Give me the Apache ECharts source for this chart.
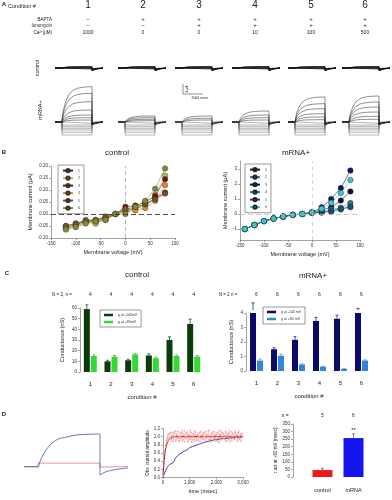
<!DOCTYPE html>
<html><head><meta charset="utf-8">
<script src="https://cdn.jsdelivr.net/npm/echarts@6/dist/echarts.min.js"></script>
<style>html,body{margin:0;padding:0;background:#fff}#c{width:392px;height:500px}</style>
</head><body><div id="c"></div><script>
// ---------- DATA ----------
const conditions = ['1','2','3','4','5','6'];
const bapta = ['–','+','+','+','+','+'];
const ionomycin = ['–','–','+','+','+','+'];
const calcium = ['1000','0','0','10','100','500'];

// Panel A: steady-state amplitudes (μA) of each trace family
const aOutward = [[3.53,2.87,2.03,1.2,0.7,0.43,0.2],[0.6,0.43,0.27,0.13],[0.6,0.37,0.2],[1.1,0.7,0.43,0.2],[2.5,1.83,1.33,0.83,0.5,0.23],[2.6,2.0,1.5,1.0,0.57,0.27]];
const aInward = [-0.13,-0.3,-0.47,-0.63,-0.8,-1.03,-1.3];
const aControl = [0.15,0.1,0.05,-0.05,-0.1];
const aShapeT = [0,150,400,700,1100,1600,2200,3000];      // ms
const aShapeF = [0.08,0.35,0.6,0.78,0.9,0.96,0.99,1];      // fraction of steady state
const aTailT = [3000,3400,3900];
const aTailV = [-0.25,-0.1,-0.03];

// Panel B
const bVcontrol = [-120,-100,-80,-60,-40,-20,0,20,40,60,80];
const bControl = [
 [-0.055,-0.045,-0.03,-0.03,-0.02,0.0,0.02,0.02,0.04,0.065,0.09],
 [-0.06,-0.05,-0.035,-0.035,-0.025,0.0,0.01,0.025,0.045,0.08,0.16],
 [-0.05,-0.04,-0.03,-0.025,-0.015,0.0,0.03,0.035,0.05,0.075,0.145],
 [-0.06,-0.05,-0.035,-0.04,-0.02,0.0,0.01,0.015,0.025,0.055,0.12],
 [-0.05,-0.04,-0.025,-0.025,-0.01,0.0,0.02,0.03,0.04,0.06,0.085],
 [-0.065,-0.055,-0.04,-0.03,-0.025,0.0,0.0,0.03,0.055,0.105,0.19]
];
const bVmrna = [-140,-120,-100,-80,-60,-40,-20,0,20,40,60,80];
const bMrna = [
 [-1.0,-0.73,-0.47,-0.3,-0.17,-0.06,0.0,0.1,0.45,1.0,1.73,2.9],
 [-1.0,-0.73,-0.47,-0.3,-0.17,-0.06,0.0,0.08,0.1,0.15,0.3,0.45],
 [-1.0,-0.73,-0.47,-0.3,-0.17,-0.06,0.0,0.1,0.25,0.45,0.9,1.5],
 [-1.0,-0.73,-0.47,-0.3,-0.17,-0.06,0.0,0.1,0.15,0.3,0.42,0.73],
 [-1.0,-0.73,-0.47,-0.3,-0.17,-0.06,0.0,0.08,0.1,0.2,0.35,0.5],
 [-1.0,-0.73,-0.47,-0.3,-0.17,-0.06,0.0,0.1,0.35,0.75,1.4,2.27]
];

// Panel C
const cCtrlNeg = [59,10,11,15.5,30,45];
const cCtrlNegErr = [4,1,1,1.5,3,4.5];
const cCtrlPos = [15,14.5,16.5,13,15,14.5];
const cCtrlPosErr = [1,1,1,1,1,1];
const cMrnaNeg = [4.2,1.5,2.15,3.45,3.6,4.2];
const cMrnaNegErr = [0.5,0.1,0.22,0.25,0.25,0.12];
const cMrnaPos = [0.72,1.05,0.45,0.3,0.15,0.72];
const cMrnaPosErr = [0.1,0.1,0.05,0.03,0.03,0.05];
const cNcontrol = ['4','4','4','4','4','4'];
const cNmrna = ['6','6','6','6','6','6'];

// Panel D
const dBlueT = [-1000,0,100,357,857,1430,2070,2790,4430,4430,4790,5360,6430];
const dBlueV = [0,0,0.12,0.39,0.72,0.92,0.99,1.06,1.09,-0.28,-0.18,-0.11,-0.04];
const dRedT = [-1000,0,0,4430,4430,6430];
const dRedV = [0,0,0.12,0.12,-0.01,0.0];
const dFitT = [0,50,100,200,300,400,3000];
const dFitRed = [0.05,0.45,0.7,0.9,0.97,1.0,1.0];
const dFitBlueT = [0,120,250,370,500,750,890,1000,1370,1500,2000,2600,3000];
const dFitBlue = [0.0,0.2,0.32,0.36,0.5,0.63,0.67,0.73,0.82,0.85,0.93,0.97,0.99];
const dNoiseDt = 30;
const dNoise1 = [0.12,0.42,0.66,0.80,0.90,0.95,1.04,0.93,1.08,0.97,0.90,1.10,1.02,0.94,1.12,0.99,0.88,1.05,1.13,0.96,1.01,0.89,1.09,0.98,1.15,0.92,1.03,0.87,1.07,1.00,0.95,1.12,0.90,1.04,0.97,1.10,0.86,1.01,1.08,0.93,1.14,0.98,0.91,1.06,1.02,0.88,1.11,0.96,1.03,0.92,1.09,1.00,0.87,1.13,0.95,1.05,0.99,1.16,0.90,1.02,0.94,1.08,1.01,0.89,1.12,0.97,1.04,0.91,1.10,0.98,0.86,1.06,1.14,0.93,1.00,1.09,0.95,1.03,0.88,1.11,0.99,1.07,0.92,1.15,0.96,1.02,0.90,1.08,1.01,0.94,1.13,0.97,1.05,0.89,1.10,1.00,0.93,1.06,0.98,1.04];
const dNoise2 = [0.05,0.30,0.58,0.74,0.86,0.98,0.91,1.07,0.99,1.11,0.94,1.03,0.88,1.09,1.00,1.14,0.92,1.05,0.97,0.89,1.12,1.01,0.95,1.08,0.90,1.04,1.13,0.96,0.99,1.10,0.87,1.06,1.02,0.93,1.15,0.98,0.91,1.07,1.03,0.89,1.11,0.96,1.04,0.92,1.09,1.00,0.88,1.13,0.97,1.05,0.94,1.10,1.01,0.90,1.06,0.98,1.14,0.93,1.02,0.87,1.08,0.99,1.12,0.95,1.03,0.91,1.07,1.00,0.89,1.15,0.96,1.04,0.92,1.11,0.98,1.06,0.94,1.01,1.13,0.90,1.05,0.97,1.09,0.88,1.02,1.12,0.95,1.00,1.07,0.93,1.10,0.99,1.04,0.91,1.14,0.96,1.03,0.89,1.08,1.01];
const dTauCats = ['control','mRNA'];
const dTau = [46,257];
const dTauErr = [12,28];
const dTauN = ['5','6'];

// ---------- STYLE / LAYOUT ----------
const FF = 'Liberation Sans, Arial, sans-serif';
const grids = [], xAxes = [], yAxes = [], series = [], graphics = [], legends = [];
function addGrid(g, xa, ya) {
  grids.push(g); const i = grids.length - 1;
  xa.gridIndex = i; ya.gridIndex = i; xAxes.push(xa); yAxes.push(ya); return i;
}
function invisAxis(min, max) {
  return {type:'value', min:min, max:max, axisLine:{show:false}, axisTick:{show:false},
    axisLabel:{show:false}, splitLine:{show:false}};
}
function txt(text, x, y, size, opt) {
  graphics.push(Object.assign({type:'text', x:x, y:y, silent:true,
    style:Object.assign({text:text, fontSize:size, fontFamily:FF, fill:'#222', align:'center', verticalAlign:'middle'}, (opt&&opt.style)||{})},
    opt&&opt.rotation!==undefined?{rotation:opt.rotation}:{}));
}
const hidden = {show:false};

// ----- Panel A header -----
txt('A', 4, 4, 6, {style:{fontWeight:'bold'}});
txt('Condition #', 22, 6, 5.5);
const aCenters = [88,143,199,255,311,365];
conditions.forEach((c,i)=>{
  txt(c, aCenters[i], 5, 10);
  txt(bapta[i], aCenters[i], 19.5, 6);
  txt(ionomycin[i], aCenters[i], 25, 6);
  txt(calcium[i], aCenters[i], 33, 5);
});
txt('BAPTA', 52, 20, 4.5, {style:{align:'right'}});
txt('Ionomycin', 52, 25.5, 4.5, {style:{align:'right'}});
txt('Ca²⁺(μM)', 52, 33, 4.5, {style:{align:'right'}});
txt('control', 37, 68, 5.5, {rotation:Math.PI/2});
txt('mRNA+', 40, 110, 5.5, {rotation:Math.PI/2});

// ----- Panel A traces -----
const aLefts = [55,118,175,232,288,342];
function traceData(amp, outward) {
  const d = [[-700,0],[0,0]];
  if (outward) {
    aShapeT.forEach((t,k)=>d.push([t, amp*aShapeF[k]]));
    aTailT.forEach((t,k)=>d.push([t, aTailV[k]]));
  } else {
    d.push([0,amp],[3000,amp],[3000,-0.05]);
  }
  d.push([4100,0]);
  return d;
}
function traceSeries(gi, data, color, width) {
  series.push({type:'line', xAxisIndex:gi, yAxisIndex:gi, data:data, symbol:'none',
    lineStyle:{color:color, width:width}, silent:true, animation:false});
}
aLefts.forEach((L,gi)=>{
  const ic = addGrid({left:L, width:48, top:58, height:20}, invisAxis(-700,4100), invisAxis(-1,1));
  aControl.forEach(a=>traceSeries(ic, traceData(a, a>0), '#000', 0.7));
  const im = addGrid({left:L, width:48, top:85, height:53}, invisAxis(-700,4100), invisAxis(-1.6,3.7));
  aInward.forEach(a=>traceSeries(im, traceData(a, false), '#666', 0.5));
  aOutward[gi].forEach(a=>traceSeries(im, traceData(a, true), '#222', 0.5));
});
// scale bar
graphics.push({type:'line', shape:{x1:183,y1:84,x2:183,y2:94}, style:{stroke:'#444', lineWidth:0.6}});
graphics.push({type:'line', shape:{x1:183,y1:94,x2:203,y2:94}, style:{stroke:'#444', lineWidth:0.6}});
txt('1 μA', 187, 89, 3.5, {rotation:Math.PI/2});
txt('2000 msec', 200, 98, 3.5);

// ----- Panel B -----
txt('B', 4, 152, 6, {style:{fontWeight:'bold'}});
txt('control', 117, 153, 8);
txt('mRNA+', 296, 153, 8);
const axLbl = {fontSize:4.5, fontFamily:FF, color:'#333', margin:3};
const axLine = {show:true, onZero:false, lineStyle:{color:'#666', width:0.6}};
const axTick = {show:true, length:2, lineStyle:{color:'#666', width:0.6}};
const bColorsC = ['#5a1a12','#c6b45a','#741212','#e08a2e','#6b5528','#7d8b35'];
const bColorsM = ['#0d1b6e','#2e6fbf','#0a1040','#2a7d86','#1b4e6b','#3cc6c8'];
const gB1 = addGrid({left:51, width:124, top:166, height:72},
  {type:'value', min:-150, max:100, interval:50, axisLine:axLine, axisTick:axTick, axisLabel:axLbl, splitLine:hidden,
   name:'Membrane voltage (mV)', nameLocation:'middle', nameGap:11, nameTextStyle:{fontSize:5.5, fontFamily:FF, color:'#222'}},
  {type:'value', min:-0.1, max:0.2, interval:0.05, axisLine:axLine, axisTick:axTick,
   axisLabel:Object.assign({}, axLbl, {formatter:v=>v.toFixed(2)}), splitLine:hidden,
   name:'Membrane current (μA)', nameLocation:'middle', nameGap:18, nameTextStyle:{fontSize:5.5, fontFamily:FF, color:'#222'}});
bControl.forEach((arr,si)=>{
  series.push({type:'line', name:'c'+(si+1), xAxisIndex:gB1, yAxisIndex:gB1,
    data:arr.map((v,k)=>[bVcontrol[k], v]), symbol:'circle', symbolSize:5.5,
    itemStyle:{color:bColorsC[si], borderColor:'#333', borderWidth:0.4},
    lineStyle:{color:bColorsC[si], width:0.6}, animation:false,
    markLine: si===0 ? {silent:true, symbol:'none', label:{show:false}, animation:false,
      data:[{yAxis:0, lineStyle:{color:'#222', type:[5,3], width:0.8}}, {xAxis:0, lineStyle:{color:'#888', type:[4,3], width:0.6}}]} : undefined});
});
const gB2 = addGrid({left:240, width:120, top:161, height:79},
  {type:'value', min:-150, max:100, interval:50, axisLine:axLine, axisTick:axTick, axisLabel:axLbl, splitLine:hidden,
   name:'Membrane voltage (mV)', nameLocation:'middle', nameGap:11, nameTextStyle:{fontSize:5.5, fontFamily:FF, color:'#222'}},
  {type:'value', min:-1.73, max:3.53, axisLine:axLine,
   axisTick:Object.assign({}, axTick, {customValues:[-1,0,1,2,3]}),
   axisLabel:Object.assign({}, axLbl, {customValues:[-1,0,1,2,3]}), splitLine:hidden,
   name:'Membrane current (μA)', nameLocation:'middle', nameGap:12, nameTextStyle:{fontSize:5.5, fontFamily:FF, color:'#222'}});
bMrna.forEach((arr,si)=>{
  series.push({type:'line', name:'m'+(si+1), xAxisIndex:gB2, yAxisIndex:gB2,
    data:arr.map((v,k)=>[bVmrna[k], v]), symbol:'circle', symbolSize:5.5,
    itemStyle:{color:bColorsM[si], borderColor:'#222', borderWidth:0.4},
    lineStyle:{color:bColorsM[si], width:0.6}, animation:false,
    markLine: si===0 ? {silent:true, symbol:'none', label:{show:false}, animation:false,
      data:[{yAxis:0, lineStyle:{color:'#bbb', type:[5,3], width:0.8}}, {xAxis:0, lineStyle:{color:'#bbb', type:[4,3], width:0.6}}]} : undefined});
});
const legBase = {orient:'vertical', itemWidth:10, itemHeight:4, itemGap:2.3, padding:[3,4,3,4],
  borderColor:'#555', borderWidth:0.6, textStyle:{fontSize:3.5, fontFamily:FF, color:'#333'}, formatter:n=>n.slice(1)};
legends.push(Object.assign({}, legBase, {left:58, top:165, data:['c1','c2','c3','c4','c5','c6']}));
legends.push(Object.assign({}, legBase, {left:245, top:164, data:['m1','m2','m3','m4','m5','m6']}));

// ----- Panel C -----
txt('C', 7, 273, 6, {style:{fontWeight:'bold'}});
txt('control', 137, 275, 8);
txt('mRNA+', 313, 276, 8);
txt('N = 2, n =', 62, 295, 4.5);
txt('N = 2 n =', 228, 295, 4.5);
const cBarW = 6, cGap = 1;
function errSeries(gi, vals, errs, offset, color) {
  return {type:'custom', xAxisIndex:gi, yAxisIndex:gi, z:5, silent:true, animation:false, clip:false,
    data: vals.map((v,i)=>[i, v, v+errs[i]]),
    renderItem(params, api){
      const c = api.coord([api.value(0), api.value(1)]);
      const t = api.coord([api.value(0), api.value(2)]);
      const x = c[0]+offset;
      return {type:'group', children:[
        {type:'line', shape:{x1:x,y1:c[1],x2:x,y2:t[1]}, style:{stroke:color,lineWidth:0.7}},
        {type:'line', shape:{x1:x-1.5,y1:t[1],x2:x+1.5,y2:t[1]}, style:{stroke:color,lineWidth:0.7}}
      ]};
    }};
}
function cGrid(left, width, top, height, max, interval, nums, names, colors, neg, negErr, pos, posErr, legendPos, nameGap) {
  const gi = addGrid({left:left, width:width, top:top, height:height},
    {type:'category', data:conditions, axisLine:{show:false}, axisTick:{show:false},
     axisLabel:{fontSize:6, fontFamily:FF, color:'#222', margin:9},
     name:'condition #', nameLocation:'middle', nameGap:22, nameTextStyle:{fontSize:6, fontFamily:FF, color:'#222'}},
    {type:'value', min:0, max:max, interval:interval, axisLine:axLine, axisTick:axTick, axisLabel:axLbl, splitLine:hidden,
     name:'Conductance (nS)', nameLocation:'middle', nameGap:nameGap, nameTextStyle:{fontSize:5.5, fontFamily:FF, color:'#222'}});
  series.push({type:'bar', name:names[0], xAxisIndex:gi, yAxisIndex:gi, data:neg, barWidth:cBarW, barGap:(cGap/cBarW*100)+'%',
    itemStyle:{color:colors[0]}, animation:false});
  series.push({type:'bar', name:names[1], xAxisIndex:gi, yAxisIndex:gi, data:pos, barWidth:cBarW,
    itemStyle:{color:colors[1]}, animation:false});
  const off = (cBarW+cGap)/2;
  series.push(errSeries(gi, neg, negErr, -off, colors[0]));
  series.push(errSeries(gi, pos, posErr, off, '#777'));
  legends.push({orient:'vertical', left:legendPos[0], top:legendPos[1], itemWidth:9, itemHeight:2.5, itemGap:3,
    padding:[3,4,3,4], borderColor:'#555', borderWidth:0.6, icon:'rect',
    textStyle:{fontSize:3.5, fontFamily:FF, color:'#333'}, data:names});
  nums.forEach((n,i)=>{
    const cx = left + width*(i+0.5)/6;
    txt(n, cx, 295, 5);
  });
}
cGrid(80, 124, 308, 64, 60, 10, cNcontrol, ['g at -140mV','g at +80mV '], ['#0b3a0b','#35d935'],
  cCtrlNeg, cCtrlNegErr, cCtrlPos, cCtrlPosErr, [100,310], 15);
cGrid(246, 126, 313, 58, 4, 1, cNmrna, ['g at -140 mV','g at +80 mV'], ['#0a0a6a','#2f86e0'],
  cMrnaNeg, cMrnaNegErr, cMrnaPos, cMrnaPosErr, [263,307], 12);

// ----- Panel D -----
txt('D', 4, 414, 6, {style:{fontWeight:'bold'}});
const gD1 = addGrid({left:24, width:104, top:430.7, height:48}, invisAxis(-1000,6430), invisAxis(-0.4,1.2));
series.push({type:'line', xAxisIndex:gD1, yAxisIndex:gD1, data:dRedT.map((t,k)=>[t,dRedV[k]]), symbol:'none',
  lineStyle:{color:'#e06060', width:0.7}, animation:false, silent:true});
series.push({type:'line', xAxisIndex:gD1, yAxisIndex:gD1, data:dBlueT.map((t,k)=>[t,dBlueV[k]]), symbol:'none', smooth:0.35,
  lineStyle:{color:'#3a3aa8', width:0.7}, animation:false, silent:true});

const gD2 = addGrid({left:163, width:80, top:428.5, height:49},
  {type:'value', min:0, max:3000, interval:1000, axisLine:axLine, axisTick:axTick, axisLabel:axLbl, splitLine:hidden,
   name:'time (msec)', nameLocation:'middle', nameGap:11, nameTextStyle:{fontSize:5.5, fontFamily:FF, color:'#222'}},
  {type:'value', min:0, max:1.2, interval:0.2, axisLine:axLine, axisTick:axTick,
   axisLabel:Object.assign({}, axLbl, {formatter:v=>v.toFixed(1)}), splitLine:hidden,
   name:'Obs. current amplitude', nameLocation:'middle', nameGap:13, nameTextStyle:{fontSize:4.5, fontFamily:FF, color:'#222'}});
[dNoise1, dNoise2].forEach(arr=>{
  series.push({type:'line', xAxisIndex:gD2, yAxisIndex:gD2, data:arr.map((v,k)=>[k*dNoiseDt+(arr===dNoise2?15:0), v]),
    symbol:'circle', symbolSize:1.6, showSymbol:true, itemStyle:{color:'#f4a0a0'},
    lineStyle:{color:'#f8c0c0', width:0.4}, animation:false, silent:true});
});
series.push({type:'line', xAxisIndex:gD2, yAxisIndex:gD2, data:dFitBlueT.map((t,k)=>[t,dFitBlue[k]]), symbol:'none', smooth:0.4,
  lineStyle:{color:'#2a2a90', width:0.9}, animation:false, silent:true});
series.push({type:'line', xAxisIndex:gD2, yAxisIndex:gD2, data:dFitT.map((t,k)=>[t,dFitRed[k]]), symbol:'none', smooth:0.4,
  lineStyle:{color:'#b01818', width:1}, animation:false, silent:true});

const gD3 = addGrid({left:307, width:62, top:424, height:53},
  {type:'category', data:dTauCats, axisLine:{show:false}, axisTick:{show:false},
   axisLabel:{fontSize:5.5, fontFamily:FF, color:'#222', margin:10}},
  {type:'value', min:0, max:350, interval:50, offset:14, axisLine:axLine, axisTick:axTick, axisLabel:axLbl, splitLine:hidden,
   name:'τ act at +60 mV (msec)', nameLocation:'middle', nameGap:14, nameTextStyle:{fontSize:4.5, fontFamily:FF, color:'#222'}});
series.push({type:'bar', xAxisIndex:gD3, yAxisIndex:gD3, barWidth:20, animation:false,
  data:[{value:dTau[0], itemStyle:{color:'#ee1a1a'}},
        {value:dTau[1], itemStyle:{color:'#1414ee'}, label:{show:true, position:'top', distance:5, formatter:'**', fontSize:6, fontFamily:FF, color:'#222'}}]});
series.push(errSeries(gD3, dTau, dTauErr, 0, '#555'));
txt('n =', 285, 416, 5);
dTauN.forEach((n,i)=>txt(n, 307 + 62*(i+0.5)/2, 416, 5));

const chart = echarts.init(document.getElementById('c'), null, {renderer:'canvas'});
chart.setOption({animation:false, backgroundColor:'#fff', textStyle:{fontFamily:FF},
  grid:grids, xAxis:xAxes, yAxis:yAxes, series:series, legend:legends, graphic:graphics});
</script></body></html>
